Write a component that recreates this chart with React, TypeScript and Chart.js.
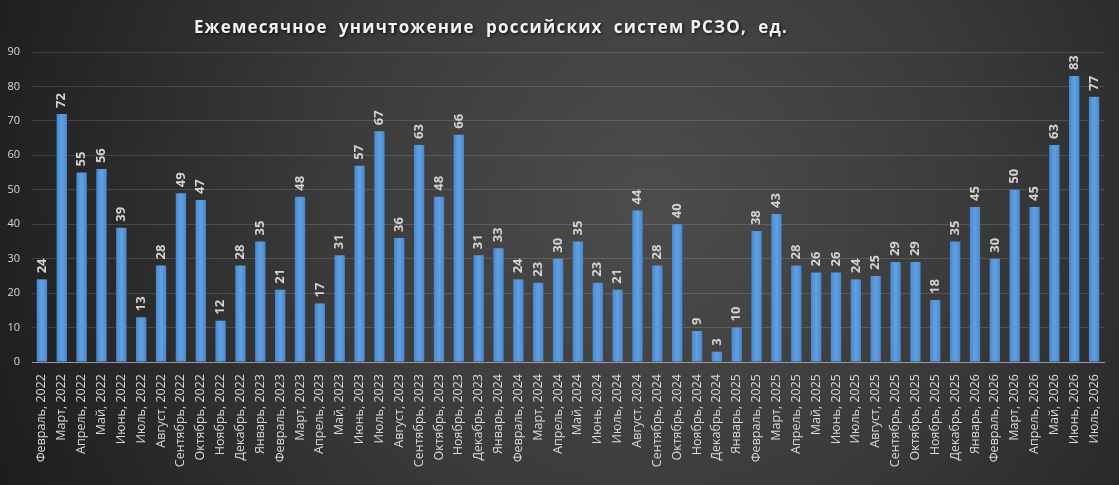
import React, { useEffect, useRef } from "react";
import { Chart, registerables } from "chart.js";

Chart.register(...registerables);

const titleText = "Ежемесячное  уничтожение  российских  систем РСЗО,  ед.";

const months = [
  "Февраль, 2022", "Март, 2022", "Апрель, 2022", "Май, 2022", "Июнь, 2022", "Июль, 2022",
  "Август, 2022", "Сентябрь, 2022", "Октябрь, 2022", "Ноябрь, 2022", "Декабрь, 2022",
  "Январь, 2023", "Февраль, 2023", "Март, 2023", "Апрель, 2023", "Май, 2023", "Июнь, 2023",
  "Июль, 2023", "Август, 2023", "Сентябрь, 2023", "Октябрь, 2023", "Ноябрь, 2023", "Декабрь, 2023",
  "Январь, 2024", "Февраль, 2024", "Март, 2024", "Апрель, 2024", "Май, 2024", "Июнь, 2024",
  "Июль, 2024", "Август, 2024", "Сентябрь, 2024", "Октябрь, 2024", "Ноябрь, 2024", "Декабрь, 2024",
  "Январь, 2025", "Февраль, 2025", "Март, 2025", "Апрель, 2025", "Май, 2025", "Июнь, 2025",
  "Июль, 2025", "Август, 2025", "Сентябрь, 2025", "Октябрь, 2025", "Ноябрь, 2025", "Декабрь, 2025",
  "Январь, 2026", "Февраль, 2026", "Март, 2026", "Апрель, 2026", "Май, 2026", "Июнь, 2026",
  "Июль, 2026",
];

const destroyed = [
  24, 72, 55, 56, 39, 13, 28, 49, 47, 12, 28,
  35, 21, 48, 17, 31, 57, 67, 36, 63, 48, 66, 31,
  33, 24, 23, 30, 35, 23, 21, 44, 28, 40, 9, 3,
  10, 38, 43, 28, 26, 26, 24, 25, 29, 29, 18, 35,
  45, 30, 50, 45, 63, 83, 77,
];

const yMin = 0;
const yMax = 90;
const yStep = 10;

const backgroundPlugin = {
  id: "bgPlugin",
  beforeDraw(chart: any) {
    const { ctx, width, height } = chart;
    ctx.save();
    const g = ctx.createRadialGradient(650, 200, 10, 650, 200, 720);
    g.addColorStop(0, "#4c4c4c");
    g.addColorStop(0.45, "#3a3a3a");
    g.addColorStop(1, "#1c1c1c");
    ctx.fillStyle = g;
    ctx.fillRect(0, 0, width, height);
    ctx.restore();
  },
};

const titlePlugin = {
  id: "titlePlugin",
  afterDraw(chart: any) {
    const { ctx } = chart;
    ctx.save();
    ctx.font = "bold 17px 'Open Sans', sans-serif";
    (ctx as any).letterSpacing = "1.2px";
    ctx.fillStyle = "#f2f2f2";
    ctx.textAlign = "center";
    ctx.textBaseline = "middle";
    ctx.shadowColor = "rgba(0,0,0,0.8)";
    ctx.shadowBlur = 3;
    ctx.shadowOffsetX = 1;
    ctx.shadowOffsetY = 1;
    ctx.fillText(titleText, 491, 28);
    ctx.restore();
  },
};

const valueLabelPlugin = {
  id: "valueLabels",
  afterDatasetsDraw(chart: any) {
    const { ctx } = chart;
    const meta = chart.getDatasetMeta(0);
    const data = chart.data.datasets[0].data as number[];
    ctx.save();
    ctx.font = "bold 13px 'Open Sans', sans-serif";
    ctx.fillStyle = "#d4d4d4";
    ctx.textAlign = "left";
    ctx.textBaseline = "middle";
    meta.data.forEach((bar: any, i: number) => {
      ctx.save();
      ctx.translate(bar.x, bar.y - 6);
      ctx.rotate(-Math.PI / 2);
      ctx.fillText(String(data[i]), 0, 0);
      ctx.restore();
    });
    ctx.restore();
  },
};

export default function App() {
  const canvasRef = useRef<HTMLCanvasElement | null>(null);

  useEffect(() => {
    document.body.style.margin = "0";
    const canvas = canvasRef.current;
    if (!canvas) return;
    const chart = new Chart(canvas, {
      type: "bar",
      data: {
        labels: months,
        datasets: [
          {
            data: destroyed,
            backgroundColor: (c: any) => {
              const ch = c.chart;
              if (!ch.chartArea || !ch.scales || !ch.scales.x) return "#4f8fd3";
              const x = ch.scales.x.getPixelForValue(c.dataIndex);
              const w = 5.5;
              const g = ch.ctx.createLinearGradient(x - w, 0, x + w, 0);
              g.addColorStop(0, "#4587d0");
              g.addColorStop(0.5, "#62a0df");
              g.addColorStop(1, "#4587d0");
              return g;
            },
            borderWidth: 0,
            barPercentage: 0.52,
            categoryPercentage: 1,
          },
        ],
      },
      options: {
        animation: false,
        responsive: true,
        maintainAspectRatio: false,
        layout: { padding: { top: 52, right: 15, left: 0, bottom: 0 } },
        plugins: {
          legend: { display: false },
          title: { display: false },
          tooltip: { enabled: false },
        },
        scales: {
          x: {
            grid: { display: false },
            border: { display: true, color: "#9a9a9a", width: 1 },
            ticks: {
              color: "#d9d9d9",
              font: { family: "'Open Sans', sans-serif", size: 12.5 },
              minRotation: 90,
              maxRotation: 90,
              autoSkip: false,
              padding: 4,
            },
            afterFit(scale: any) {
              scale.height = 123;
            },
          },
          y: {
            min: yMin,
            max: yMax,
            ticks: {
              stepSize: yStep,
              color: "#d9d9d9",
              font: { family: "'Open Sans', sans-serif", size: 11 },
              padding: 12,
            },
            grid: {
              color: "rgba(255,255,255,0.14)",
              drawTicks: false,
            },
            border: { display: false },
            afterFit(scale: any) {
              scale.width = 32;
            },
          },
        },
      },
      plugins: [backgroundPlugin, titlePlugin, valueLabelPlugin],
    });
    return () => chart.destroy();
  }, []);

  return (
    <div style={{ position: "fixed", left: 0, top: 0, width: 1119, height: 485 }}>
      <canvas ref={canvasRef} />
    </div>
  );
}
